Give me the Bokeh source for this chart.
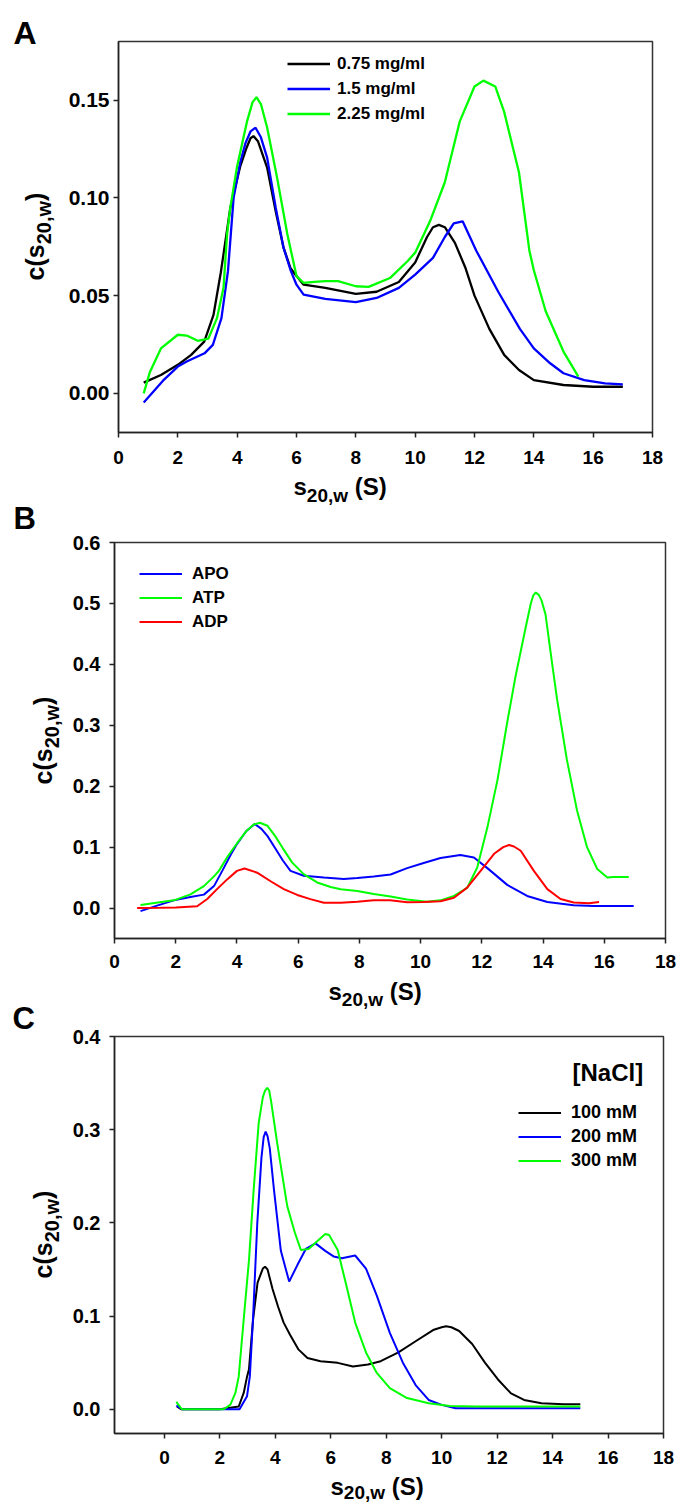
import math
from bokeh.plotting import figure
from bokeh.models import Range1d, FixedTicker, Label, Legend, LegendItem, NumeralTickFormatter
from bokeh.layouts import column, row
from bokeh.embed import file_html
from bokeh.resources import INLINE

FONT = "Liberation Sans"

# ---------------- Panel A: concentration series ----------------
a_labels = ["0.75 mg/ml", "1.5 mg/ml", "2.25 mg/ml"]
a_x_075 = [0.85, 1.43, 2.0, 2.45, 2.89, 3.2, 3.45, 3.77, 4.1, 4.3, 4.45, 4.55, 4.7, 5.01, 5.3, 5.56, 5.8,
           6.0, 6.24, 6.97, 8.0, 8.7, 9.45, 10.0, 10.4, 10.6, 10.8, 11.0, 11.34, 11.7, 12.0, 12.5, 13.0,
           13.5, 14.0, 15.0, 16.0, 17.0]
a_y_075 = [0.0055, 0.0094, 0.0146, 0.0197, 0.0265, 0.040, 0.062, 0.095, 0.116, 0.125, 0.1305, 0.1316,
           0.129, 0.1155, 0.093, 0.0747, 0.064, 0.060, 0.0556, 0.054, 0.0509, 0.052, 0.057, 0.067, 0.080,
           0.0850, 0.0862, 0.085, 0.077, 0.064, 0.050, 0.033, 0.0197, 0.012, 0.0068, 0.0043, 0.0034,
           0.0034]
a_x_150 = [0.85, 1.5, 2.0, 2.3, 2.9, 3.18, 3.47, 3.69, 3.88, 4.1, 4.28, 4.45, 4.62, 4.8, 5.01, 5.3, 5.56,
           5.8, 6.0, 6.24, 6.97, 8.0, 8.7, 9.45, 10.0, 10.6, 11.0, 11.3, 11.6, 12.06, 12.8, 13.53, 14.0,
           14.55, 15.0, 15.7, 16.4, 17.0]
a_y_150 = [-0.0046, 0.0065, 0.0137, 0.0163, 0.0205, 0.0248, 0.0385, 0.0625, 0.100, 0.118, 0.128, 0.134,
           0.1359, 0.131, 0.1206, 0.095, 0.0747, 0.063, 0.0556, 0.0505, 0.0483, 0.0467, 0.0488, 0.054,
           0.0608, 0.0693, 0.080, 0.087, 0.088, 0.073, 0.052, 0.033, 0.023, 0.0154, 0.0103, 0.0068,
           0.0051, 0.0046]
a_x_225 = [0.85, 1.06, 1.43, 2.0, 2.3, 2.67, 3.03, 3.32, 3.54, 3.66, 3.77, 3.99, 4.33, 4.52, 4.65, 4.8,
           5.01, 5.35, 5.69, 6.0, 6.24, 6.6, 6.97, 7.4, 8.0, 8.43, 9.15, 9.74, 10.0, 10.5, 11.0, 11.5,
           12.0, 12.3, 12.7, 13.0, 13.5, 13.85, 14.0, 14.4, 15.0, 15.5]
a_y_225 = [0.0, 0.011, 0.023, 0.030, 0.0296, 0.0269, 0.028, 0.0385, 0.054, 0.0815, 0.095, 0.1155, 0.139,
           0.149, 0.1515, 0.148, 0.136, 0.110, 0.0815, 0.060, 0.0565, 0.057, 0.0574, 0.0574, 0.0548,
           0.0545, 0.059, 0.0676, 0.072, 0.088, 0.108, 0.139, 0.157, 0.160, 0.157, 0.144, 0.113, 0.073,
           0.063, 0.042, 0.0214, 0.0086]

# ---------------- Panel B: nucleotide series ----------------
b_labels = ["APO", "ATP", "ADP"]
b_x_apo = [0.85, 1.39, 1.94, 2.48, 2.92, 3.25, 3.52, 3.8, 4.0, 4.3, 4.58, 4.8, 5.0, 5.25, 5.5, 5.75, 6.18,
           6.84, 7.49, 7.93, 8.47, 9.02, 9.56, 10.1, 10.65, 11.3, 11.74, 12.18, 12.83, 13.48, 14.14, 15.0,
           15.66, 16.96]
b_y_apo = [-0.005, 0.004, 0.0126, 0.018, 0.022, 0.036, 0.061, 0.088, 0.105, 0.126, 0.138, 0.130, 0.118,
           0.098, 0.078, 0.061, 0.053, 0.050, 0.0478, 0.0495, 0.0517, 0.055, 0.0655, 0.074, 0.082, 0.087,
           0.083, 0.0655, 0.038, 0.0198, 0.0099, 0.0044, 0.0033, 0.0033]
b_x_atp = [0.85, 1.94, 2.48, 2.92, 3.25, 3.41, 3.7, 4.0, 4.3, 4.55, 4.75, 5.0, 5.25, 5.5, 5.8, 6.18, 6.62,
           7.06, 7.39, 7.93, 8.47, 9.02, 9.56, 10.2, 10.65, 11.09, 11.52, 11.85, 12.18, 12.51, 12.83, 13.1,
           13.43, 13.6, 13.68, 13.76, 13.86, 13.95, 14.08, 14.3, 14.46, 14.78, 15.11, 15.44, 15.77, 16.1,
           16.3, 16.8]
b_y_atp = [0.005, 0.0126, 0.0225, 0.036, 0.052, 0.061, 0.085, 0.106, 0.126, 0.137, 0.140, 0.135, 0.118,
           0.098, 0.075, 0.0556, 0.042, 0.0346, 0.031, 0.028, 0.023, 0.019, 0.014, 0.0104, 0.0126, 0.0198,
           0.033, 0.0665, 0.132, 0.21, 0.305, 0.38, 0.46, 0.50, 0.513, 0.518, 0.514, 0.505, 0.482, 0.40,
           0.342, 0.243, 0.16, 0.0995, 0.064, 0.050, 0.051, 0.051]
b_x_adp = [0.74, 1.5, 2.0, 2.7, 3.03, 3.35, 3.68, 4.0, 4.25, 4.66, 5.1, 5.53, 5.97, 6.4, 6.84, 7.39, 7.93,
           8.47, 9.0, 9.56, 10.1, 10.65, 11.09, 11.52, 11.96, 12.40, 12.7, 12.89, 13.05, 13.27, 13.70,
           14.14, 14.57, 15.0, 15.5, 15.83]
b_y_adp = [0.0, 0.0005, 0.001, 0.003, 0.0148, 0.031, 0.047, 0.061, 0.065, 0.058, 0.044, 0.031, 0.0215,
           0.0146, 0.0088, 0.0088, 0.0104, 0.0126, 0.0126, 0.0094, 0.010, 0.011, 0.017, 0.0335, 0.061,
           0.089, 0.100, 0.1034, 0.101, 0.094, 0.061, 0.031, 0.0148, 0.009, 0.008, 0.010]

# ---------------- Panel C: NaCl series ----------------
c_labels = ["100 mM", "200 mM", "300 mM"]
c_x_100 = [0.45, 0.6, 1.0, 2.0, 2.68, 2.86, 2.98, 3.05, 3.2, 3.36, 3.55, 3.63, 3.72, 3.9, 4.1, 4.3, 4.53,
           4.84, 5.16, 5.63, 6.25, 6.8, 7.34, 7.8, 8.44, 9.06, 9.69, 10.0, 10.16, 10.35, 10.63, 11.1,
           11.56, 12.03, 12.5, 12.97, 13.6, 14.4, 15.0]
c_y_100 = [0.003, 0.0, 0.0, 0.0, 0.003, 0.0175, 0.035, 0.043, 0.097, 0.136, 0.151, 0.153, 0.150, 0.129,
           0.11, 0.093, 0.080, 0.064, 0.055, 0.0516, 0.0498, 0.046, 0.048, 0.0516, 0.061, 0.073, 0.085,
           0.088, 0.089, 0.088, 0.084, 0.070, 0.050, 0.032, 0.017, 0.010, 0.0065, 0.0054, 0.0054]
c_x_200 = [0.43, 0.63, 1.0, 2.0, 2.71, 2.98, 3.08, 3.2, 3.35, 3.5, 3.58, 3.65, 3.72, 3.8, 3.95, 4.2, 4.5,
           4.8, 5.1, 5.45, 5.8, 6.1, 6.4, 6.88, 7.27, 7.66, 8.13, 8.6, 9.06, 9.53, 10.0, 10.5, 15.0]
c_y_200 = [0.004, 0.0, 0.0, 0.0, 0.0, 0.014, 0.035, 0.10, 0.20, 0.27, 0.292, 0.298, 0.293, 0.28, 0.236,
           0.17, 0.137, 0.155, 0.172, 0.178, 0.17, 0.164, 0.162, 0.165, 0.151, 0.122, 0.082, 0.050,
           0.026, 0.010, 0.0047, 0.001, 0.001]
c_x_300 = [0.43, 0.63, 1.0, 2.14, 2.38, 2.56, 2.68, 2.9, 3.05, 3.22, 3.4, 3.55, 3.63, 3.71, 3.78, 3.85,
           4.07, 4.43, 4.7, 4.92, 5.2, 5.5, 5.8, 5.94, 6.25, 6.56, 6.88, 7.27, 7.66, 8.13, 8.75, 9.53,
           10.3, 11.25, 15.0]
c_y_300 = [0.008, 0.0, 0.0, 0.0, 0.005, 0.0175, 0.035, 0.11, 0.16, 0.236, 0.307, 0.335, 0.342, 0.345,
           0.342, 0.33, 0.285, 0.218, 0.19, 0.171, 0.172, 0.180, 0.188, 0.187, 0.171, 0.133, 0.093,
           0.061, 0.039, 0.0227, 0.012, 0.0065, 0.0036, 0.003, 0.003]

x_ticks = [0, 2, 4, 6, 8, 10, 12, 14, 16, 18]
a_y_ticks = [0.0, 0.05, 0.10, 0.15]
b_y_ticks = [0.0, 0.1, 0.2, 0.3, 0.4, 0.5, 0.6]
c_y_ticks = [0.0, 0.1, 0.2, 0.3, 0.4]

BLACK, BLUE, GREEN, RED = "#000000", "#0000ff", "#00ff00", "#ff0000"

W = {"s": 0.556, "c": 0.556, "(": 0.333, ")": 0.333, "2": 0.556, "0": 0.556, ",": 0.278,
     "w": 0.778, " ": 0.278, "S": 0.667}
MID = 0.3465      # distance from alphabetic baseline to the "middle" anchor, in em
LEFT_W = 63       # width of the left text strip (panel letters and y titles)
PAGE_H = 1503


def tw(t, size):
    return sum(W[ch] for ch in t) * size


def lab(p, x, y, text, size, rotated=False):
    """Place text with its alphabetic baseline start at (x, y) (screen units, y up)."""
    if rotated:
        ax, ay, ang = x - MID * size, y, math.pi / 2
    else:
        ax, ay, ang = x, y + MID * size, 0.0
    p.add_layout(Label(x=ax, y=ay, x_units="screen", y_units="screen", text=text, angle=ang,
                       text_font=FONT, text_font_style="bold", text_font_size=f"{size}px",
                       text_color="black", text_align="left", text_baseline="middle"))


def blank(w, h):
    f = figure(width=w, height=h, output_backend="svg", toolbar_location=None, title=None,
               x_axis_type=None, y_axis_type=None, min_border=0, frame_align=False,
               x_range=Range1d(0, 1), y_range=Range1d(0, 1))
    f.outline_line_color = None
    f.background_fill_color = "white"
    f.border_fill_color = "white"
    return f


def make_fig(height, fl, fr, ft, fb, xr, yr, yticks, yfmt, ystand, xstand, yfs):
    p = figure(width=678 - LEFT_W, height=height, output_backend="svg", toolbar_location=None, title=None,
               x_range=Range1d(*xr), y_range=Range1d(*yr), frame_align=False,
               min_border_left=fl - LEFT_W, min_border_right=678 - fr,
               min_border_top=ft, min_border_bottom=fb)
    p.xgrid.visible = False
    p.ygrid.visible = False
    p.outline_line_color = "#333333"
    p.outline_line_width = 1.5
    p.outline_line_alpha = 1.0
    p.background_fill_color = "white"
    p.border_fill_color = "white"
    for ax, ticks, stand, fs in ((p.xaxis[0], x_ticks, xstand, "19px"), (p.yaxis[0], yticks, ystand, yfs)):
        ax.ticker = FixedTicker(ticks=ticks)
        ax.major_tick_out = 5
        ax.major_tick_in = 0
        ax.minor_tick_line_color = None
        ax.axis_line_width = 1.5
        ax.axis_line_color = "#222222"
        ax.major_tick_line_width = 1.5
        ax.major_tick_line_color = "#222222"
        ax.major_label_text_font = FONT
        ax.major_label_text_font_style = "bold"
        ax.major_label_text_font_size = fs
        ax.major_label_text_color = "black"
        ax.major_label_standoff = stand
    p.yaxis[0].formatter = NumeralTickFormatter(format=yfmt)
    return p


def x_title(f, x_page, base_page, strip_top, strip_h, drop, F=24, fs=19):
    y0 = strip_h - (base_page - strip_top)
    x0 = x_page - LEFT_W
    lab(f, x0, y0, "s", F)
    lab(f, x0 + tw("s", F), y0 - drop, "20,w", fs)
    lab(f, x0 + tw("s", F) + tw("20,w", fs) + tw(" ", F), y0, "(S)", F)


def y_title(f, bx, yc_page, F=25, fs=20, shift=7):
    yc = PAGE_H - yc_page
    total = tw("c(s", F) + tw("20,w", fs) + tw(")", F)
    y0 = yc - total / 2
    lab(f, bx, y0, "c(s", F, True)
    lab(f, bx + shift, y0 + tw("c(s", F), "20,w", fs, True)
    lab(f, bx, y0 + tw("c(s", F) + tw("20,w", fs), ")", F, True)


def legend(p, items, vx, vy, size, standoff, rowh, spacing):
    leg = Legend(items=items, location=(vx, vy), orientation="vertical",
                 border_line_color=None, background_fill_alpha=0.0, padding=0, margin=0,
                 spacing=spacing, glyph_width=43, glyph_height=rowh, label_height=rowh,
                 label_standoff=standoff, label_text_font=FONT, label_text_font_style="bold",
                 label_text_font_size=f"{size}px", label_text_color="black")
    p.add_layout(leg)


LW = 2.3

# ---- Panel A: figure 0..472, frame 41..432; title strip 472..506 ----
pA = make_fig(472, 118, 652, 41, 40, (0, 18), (-0.02, 0.18), a_y_ticks, "0.00", 4, 13, "21px")
rA = [pA.line(a_x_075, a_y_075, line_color=BLACK, line_width=LW),
      pA.line(a_x_150, a_y_150, line_color=BLUE, line_width=LW),
      pA.line(a_x_225, a_y_225, line_color=GREEN, line_width=LW)]
legend(pA, [LegendItem(label=l, renderers=[r]) for l, r in zip(a_labels, rA)], 169, 308, 17, 7, 21, 4)
tA = blank(678 - LEFT_W, 34)
x_title(tA, 293, 494, 472, 34, 8)

# ---- Panel B: figure 506..977, frame 542..938; title strip 977..1010 ----
pB = make_fig(471, 114, 665, 36, 39, (0, 18), (-0.05, 0.6), b_y_ticks, "0.0", 9, 11, "20px")
rB = [pB.line(b_x_apo, b_y_apo, line_color=BLUE, line_width=2),
      pB.line(b_x_atp, b_y_atp, line_color=GREEN, line_width=2),
      pB.line(b_x_adp, b_y_adp, line_color=RED, line_width=2)]
legend(pB, [LegendItem(label=l, renderers=[r]) for l, r in zip(b_labels, rB)], 25, 306, 17, 10, 21, 3)
tB = blank(678 - LEFT_W, 33)
x_title(tB, 328, 999, 977, 33, 7)

# ---- Panel C: figure 1010..1472, frame 1036..1433; title strip 1472..1503 ----
pC = make_fig(462, 114, 663, 26, 39, (-1.8, 18), (-0.026, 0.4), c_y_ticks, "0.0", 9, 12, "20px")
rC = [pC.line(c_x_100, c_y_100, line_color=BLACK, line_width=2),
      pC.line(c_x_200, c_y_200, line_color=BLUE, line_width=2),
      pC.line(c_x_300, c_y_300, line_color=GREEN, line_width=2)]
legend(pC, [LegendItem(label=l, renderers=[r]) for l, r in zip(c_labels, rC)], 404, 262, 18, 10, 21, 3)
lab(pC, 458, 1433 - 1080, "[NaCl]", 24)
tC = blank(678 - LEFT_W, 31)
x_title(tC, 330, 1494, 1472, 31, 5)

# ---- left strip: panel letters and y-axis titles ----
left = blank(LEFT_W, PAGE_H)
lab(left, 13, PAGE_H - 44, "A", 32)
lab(left, 13, PAGE_H - 529, "B", 31)
lab(left, 12, PAGE_H - 1029, "C", 31)
y_title(left, 43, 236)
y_title(left, 51, 740)
y_title(left, 51, 1234)

layout = row(left, column(pA, tA, pB, tB, pC, tC, spacing=0), spacing=0)
open("out.html", "w").write(file_html(layout, INLINE))
